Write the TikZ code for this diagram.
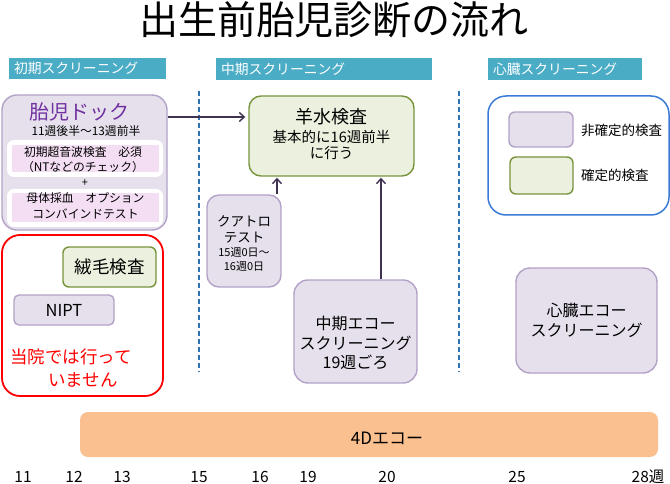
\documentclass[tikz,border=0pt]{standalone}
\usepackage{fontspec}
\setmainfont{Noto Sans CJK JP}
\usetikzlibrary{arrows.meta,shadows}
\definecolor{hdrteal}{RGB}{75,172,198}
\definecolor{lavfill}{RGB}{230,224,236}
\definecolor{lavdraw}{RGB}{179,162,199}
\definecolor{grnfill}{RGB}{235,241,222}
\definecolor{grndraw}{RGB}{119,147,60}
\definecolor{pinkfill}{RGB}{244,222,243}
\definecolor{arrcol}{RGB}{63,49,81}
\definecolor{dashblue}{RGB}{46,117,182}
\definecolor{legblue}{RGB}{58,123,213}
\definecolor{peach}{RGB}{250,192,144}
\definecolor{dockpurple}{RGB}{112,48,160}
\newcommand\fsz[2]{\fontsize{#1}{#2}\selectfont}
\begin{document}
\begin{tikzpicture}[x=1pt,y=-1pt,
  nonconf/.style={draw=lavdraw,fill=lavfill,line width=1.4pt,rounded corners=12pt,inner sep=0pt},
  conf/.style={draw=grndraw,fill=grnfill,line width=1.4pt,rounded corners=10pt,inner sep=0pt},
  hdr/.style={fill=hdrteal,draw=white,line width=1.5pt,inner xsep=6pt,inner ysep=0pt,
    text=white,font=\fsz{13.8}{15},align=left,
    drop shadow={shadow xshift=1pt,shadow yshift=-1.5pt,opacity=0.35}},
  arr/.style={draw=arrcol,line width=1.4pt,-{Straight Barb[length=5pt,width=9pt]}},
  dashln/.style={draw=dashblue,line width=1.5pt,dash pattern=on 5pt off 3pt},
  lbl/.style={inner sep=0pt,align=center},
  tick/.style={inner sep=0pt,font=\fsz{15.5}{17}}]
\useasboundingbox (0,0) rectangle (670,484);

% title
\node[lbl,font=\fsz{39}{41}] (title) at (334,20) {出生前胎児診断の流れ};

% headers
\node[hdr,minimum height=23pt,text width=147pt] (h1) at (87.5,68.5) {初期スクリーニング};
\node[hdr,minimum height=24pt,text width=206pt] (h2) at (324,69) {中期スクリーニング};
\node[hdr,minimum height=24pt,text width=144pt] (h3) at (565,69) {心臓スクリーニング};

% dashed separators
\draw[dashln] (199,91) -- (199,372);
\draw[dashln] (459,91) -- (459,372);

% fetal dock
\node[nonconf,rounded corners=15pt,minimum width=165pt,minimum height=135pt] (dock) at (84.5,162.5) {};
\node[lbl,font=\fsz{20}{22},text=dockpurple] (docktitle) at (80,112) {胎児ドック};
\node[lbl,font=\fsz{11.8}{13}] (dockweeks) at (86,131) {11週後半～13週前半};
\node[fill=white,rounded corners=7pt,minimum width=156pt,minimum height=37pt,inner sep=0pt] (band1) at (85,158.5) {};
\node[fill=pinkfill,minimum width=147pt,minimum height=27pt,inner sep=0pt] (pink1) at (85.5,158.5) {};
\node[lbl,font=\fsz{11.8}{15}] (pink1txt) at (83,159.5) {初期超音波検査　必須\\（NTなどのチェック）};
\node[lbl,font=\fsz{11}{13}] (plus) at (85,183) {+};
\node[fill=white,rounded corners=7pt,minimum width=156pt,minimum height=38pt,inner sep=0pt] (band2) at (85,208) {};
\node[fill=pinkfill,minimum width=147pt,minimum height=29pt,inner sep=0pt] (pink2) at (85.5,207.5) {};
\node[lbl,font=\fsz{11.8}{16}] (pink2txt) at (85.5,206) {母体採血　オプション\\コンバインドテスト};

% red box
\node[draw=red,fill=white,line width=1.8pt,rounded corners=18pt,minimum width=161pt,minimum height=161pt,inner sep=0pt] (redbox) at (82.5,315.5) {};
\node[conf,rounded corners=6pt,minimum width=93pt,minimum height=40pt,font=\fsz{17.5}{20}] (villus) at (109.5,267) {絨毛検査};
\node[nonconf,rounded corners=5pt,minimum width=100pt,minimum height=30pt,font=\fsz{16.5}{18}] (nipt) at (64,310) {NIPT};
\node[lbl,font=\fsz{17.5}{20},text=red] (red1) at (71,357) {当院では行って};
\node[lbl,font=\fsz{17.5}{20},text=red] (red2) at (83,380) {いません};

% amniocentesis
\node[conf,rounded corners=12pt,minimum width=165pt,minimum height=80pt] (amnio) at (331.5,136) {};
\node[lbl,font=\fsz{18}{20}] (amnio1) at (331.5,117) {羊水検査};
\node[lbl,font=\fsz{14.5}{16}] (amnio2) at (331.5,145) {基本的に16週前半\\に行う};

% quattro
\node[nonconf,minimum width=74pt,minimum height=92pt] (quattro) at (244,241) {};
\node[lbl,font=\fsz{13.5}{16}] (q1) at (244,229) {クアトロ\\テスト};
\node[lbl,font=\fsz{11}{14}] (q2) at (244,259) {15週0日～\\16週0日};

% mid echo
\node[nonconf,rounded corners=14pt,minimum width=123pt,minimum height=103pt] (echo) at (355.5,331.5) {};
\node[lbl,font=\fsz{16}{19.5}] (echotxt) at (355.5,343) {中期エコー\\スクリーニング\\19週ごろ};

% heart echo
\node[nonconf,rounded corners=14pt,minimum width=141pt,minimum height=105pt,font=\fsz{16}{20},align=center] (heart) at (586.5,320.5) {心臓エコー\\スクリーニング};

% legend
\node[draw=legblue,fill=white,line width=1.5pt,rounded corners=18pt,minimum width=181pt,minimum height=119pt,inner sep=0pt] (legend) at (578.5,155.5) {};
\node[nonconf,rounded corners=6pt,minimum width=64pt,minimum height=35pt] (sw1) at (541,129.5) {};
\node[conf,rounded corners=6pt,minimum width=63pt,minimum height=37pt] (sw2) at (541.5,175.5) {};
\node[inner sep=0pt,anchor=west,font=\fsz{13.5}{15}] (lg1) at (581,130) {非確定的検査};
\node[inner sep=0pt,anchor=west,font=\fsz{13.5}{15}] (lg2) at (581,175) {確定的検査};

% arrows
\draw[arr] (dock.east |- 0,117) -- ([xshift=-3pt]amnio.west |- 0,117);
\draw[arr] (quattro.north -| 277,0) -- ([yshift=-1pt]amnio.south -| 277,0);
\draw[arr] (echo.north -| 381,0) -- ([yshift=-1pt]amnio.south -| 381,0);

% 4D echo bar
\node[fill=peach,rounded corners=8pt,minimum width=578pt,minimum height=45pt,inner sep=0pt] (bar4d) at (369,434.5) {};
\node[lbl,font=\fsz{17}{19}] (bar4dtxt) at (387,438) {4Dエコー};

% week ticks
\node[tick] (w11) at (23,477) {11};
\node[tick] (w12) at (74,477) {12};
\node[tick] (w13) at (122,477) {13};
\node[tick] (w15) at (199,477) {15};
\node[tick] (w16) at (260,477) {16};
\node[tick] (w19) at (308,477) {19};
\node[tick] (w20) at (387,477) {20};
\node[tick] (w25) at (517,477) {25};
\node[tick] (w28) at (648,477) {28週};
\end{tikzpicture}
\end{document}
